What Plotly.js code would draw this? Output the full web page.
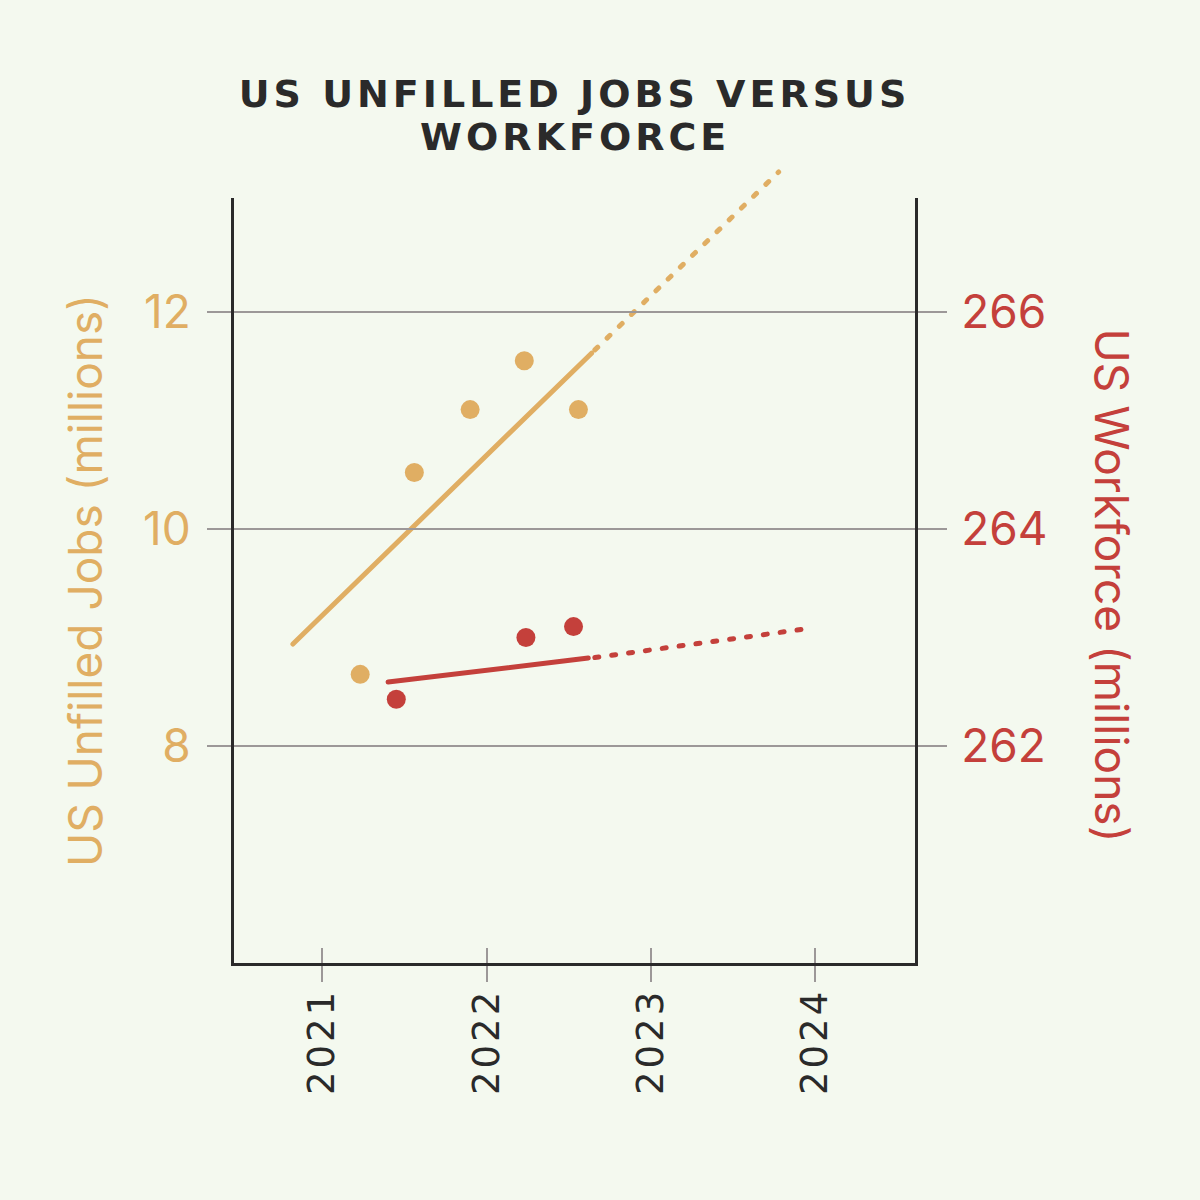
<!DOCTYPE html>
<html>
<head>
<meta charset="utf-8">
<script src="https://cdn.plot.ly/plotly-3.0.1.min.js"></script>
<style>
  html, body { margin: 0; padding: 0; background: #f4f9ef; }
  #chart { width: 1200px; height: 1200px; }
  #chart .gtitle { letter-spacing: 4px; }
  #chart g.annotation[data-index="1"] text { letter-spacing: 4px; }
  #chart .xtick text { letter-spacing: 3px; }
  #chart .js-line { stroke-linecap: round; }
</style>
</head>
<body>
<div id="chart"></div>
<script>
// observations (decimal year)
const jobsYears = [2021.23, 2021.56, 2021.9, 2022.23, 2022.56];
const jobsValues = [8.66, 10.52, 11.1, 11.55, 11.1];
const workYears = [2021.45, 2022.24, 2022.53];
const workValues = [262.43, 263.0, 263.1];

// fitted trend: solid part then projection
const jobsTrendYears = [2020.82, 2022.64];
const jobsTrendValues = [8.94, 11.62];
const jobsProjYears = [2022.66, 2023.78];
const jobsProjValues = [11.65, 13.29];
const workTrendYears = [2021.4, 2022.62];
const workTrendValues = [262.59, 262.81];
const workProjYears = [2022.66, 2023.95];
const workProjValues = [262.815, 263.08];

const xTicks = [2021, 2022, 2023, 2024];
const jobsTicks = [8, 10, 12];
const workTicks = [262, 264, 266];

const c = {
  bg: "#f4f9ef",
  ink: "#2a2a2a",
  jobs: "#e0ae63",
  work: "#c4403b",
  grid: "#9c9898",
};

// plot box sits below a taller paper so the projection can run past the top
const H = 1200, marginT = 150, marginB = 237;
const plotH = 765;
const paperH = H - marginT - marginB;
const domTop = plotH / paperH;
const xRange = [2020.461, 2024.611];
const yRange = [6, 13.05];
const y2Range = [260, 267.05];
const y3Range = [yRange[0], yRange[0] + (yRange[1] - yRange[0]) / domTop];

const titleFont = { family: "DejaVu Sans", size: 38, color: c.ink, weight: "bold" };
const sideFont = (color) => ({ family: "Inter", size: 46, color });

const traces = [
  {
    type: "scatter", mode: "lines",
    x: jobsTrendYears, y: jobsTrendValues,
    line: { color: c.jobs, width: 5 },
    hoverinfo: "skip", showlegend: false,
  },
  {
    type: "scatter", mode: "lines",
    x: jobsProjYears, y: jobsProjValues, yaxis: "y3",
    line: { color: c.jobs, width: 5, dash: "4px,13px" },
    hoverinfo: "skip", showlegend: false,
  },
  {
    type: "scatter", mode: "lines",
    x: workTrendYears, y: workTrendValues, yaxis: "y2",
    line: { color: c.work, width: 5 },
    hoverinfo: "skip", showlegend: false,
  },
  {
    type: "scatter", mode: "lines",
    x: workProjYears, y: workProjValues, yaxis: "y2",
    line: { color: c.work, width: 5, dash: "4px,13px" },
    hoverinfo: "skip", showlegend: false,
  },
  {
    type: "scatter", mode: "markers",
    x: jobsYears, y: jobsValues,
    marker: { color: c.jobs, size: 19 },
    showlegend: false,
  },
  {
    type: "scatter", mode: "markers",
    x: workYears, y: workValues, yaxis: "y2",
    marker: { color: c.work, size: 19 },
    showlegend: false,
  },
  // transparent trace so the second x axis (tick stubs above the line) gets drawn
  {
    type: "scatter", mode: "markers",
    x: [xTicks[0]], y: [jobsTicks[0]], xaxis: "x2",
    marker: { opacity: 0 },
    showlegend: false, hoverinfo: "skip",
  },
];

const layout = {
  width: 1200,
  height: H,
  paper_bgcolor: c.bg,
  plot_bgcolor: "rgba(0,0,0,0)",
  margin: { l: 234, r: 285, t: marginT, b: marginB },
  title: {
    text: "US UNFILLED JOBS VERSUS",
    font: titleFont,
    xref: "paper", x: 0.5, xanchor: "center",
    yref: "container", y: 1 - 94 / H, yanchor: "middle",
  },
  xaxis: {
    range: xRange,
    tickvals: xTicks,
    ticktext: xTicks.map(String),
    tickangle: -90,
    ticks: "outside", ticklen: 16, tickwidth: 2, tickcolor: c.grid,
    tickfont: { family: "DejaVu Sans", size: 37, color: c.ink },
    ticklabelstandoff: -8,
    showline: true, linecolor: c.ink, linewidth: 3,
    showgrid: false, zeroline: false,
    anchor: "y",
  },
  xaxis2: {
    domain: [0, 1], anchor: "y", side: "bottom",
    range: xRange,
    tickvals: xTicks,
    ticks: "inside", ticklen: 15, tickwidth: 2, tickcolor: c.grid,
    showticklabels: false, showline: false, showgrid: false, zeroline: false,
  },
  yaxis: {
    domain: [0, domTop],
    range: yRange,
    tickvals: jobsTicks,
    ticks: "outside", ticklen: 24, tickwidth: 2, tickcolor: c.grid,
    tickfont: sideFont(c.jobs),
    ticklabelstandoff: 7,
    showline: true, linecolor: c.ink, linewidth: 3,
    gridcolor: c.grid, gridwidth: 2, zeroline: false,
    title: {
      text: "US Unfilled Jobs (millions)",
      font: sideFont(c.jobs),
      standoff: 26,
    },
  },
  yaxis2: {
    domain: [0, domTop],
    overlaying: "y", side: "right", anchor: "x",
    range: y2Range,
    tickvals: workTicks,
    ticks: "outside", ticklen: 29, tickwidth: 2, tickcolor: c.grid,
    tickfont: sideFont(c.work),
    ticklabelstandoff: 5,
    showline: true, linecolor: c.ink, linewidth: 3,
    showgrid: false, zeroline: false,
  },
  yaxis3: {
    domain: [0, 1],
    anchor: "x",
    range: y3Range,
    visible: false,
  },
  annotations: [
    {
      text: "US Workforce (millions)",
      xref: "paper", yref: "paper",
      x: 1.289, y: 0.5 * domTop - 0.006,
      xanchor: "center", yanchor: "middle",
      textangle: 90,
      showarrow: false,
      font: sideFont(c.work),
    },
    {
      // second title line, set tighter than Plotly's <br> line height
      text: "WORKFORCE",
      xref: "paper", yref: "paper",
      x: 0.5, y: (H - marginB - 137) / paperH,
      xanchor: "center", yanchor: "middle",
      showarrow: false,
      font: titleFont,
    },
  ],
};

Plotly.newPlot("chart", traces, layout, { displayModeBar: false, staticPlot: true });
</script>
</body>
</html>
